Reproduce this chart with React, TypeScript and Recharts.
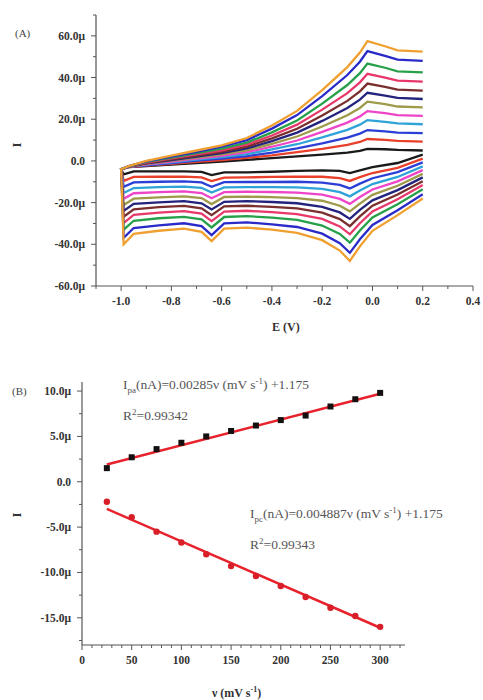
import React from "react";
import { LineChart, Line, XAxis, YAxis, ComposedChart, Scatter } from "recharts";

// (A) cyclic voltammograms, potential grids for each half of the sweep
const E_FORWARD = [-1.0, -0.97, -0.9, -0.8, -0.7, -0.6, -0.5, -0.4, -0.3, -0.2, -0.1, -0.05, -0.02, 0.05, 0.1, 0.2];
const E_REVERSE = [0.2, 0.1, 0.0, -0.05, -0.09, -0.13, -0.2, -0.3, -0.4, -0.5, -0.59, -0.64, -0.68, -0.75, -0.85, -0.95, -0.99];

// anodic (forward) branch currents, uA
const fwd25 = [-4, -3, -2.5, -1.8, -1, -0.3, 0.5, 1.3, 2.2, 3, 4, 4.8, 5.8, 5.6, 5.3, 5.0];
const fwd50 = [-4, -3, -2.3, -1.4, -0.5, 0.4, 1.5, 2.7, 4.2, 5.8, 7.7, 9.1, 10.5, 10.1, 9.6, 9.3];
const fwd75 = [-4, -2.9, -2.1, -1.0, 0.1, 1.1, 2.3, 4.0, 6.0, 8.4, 11.2, 13.1, 14.8, 14.2, 13.6, 13.3];
const fwd100 = [-4, -2.9, -1.8, -0.7, 0.6, 1.8, 3.3, 5.5, 8.0, 11.3, 14.9, 17.4, 19.6, 18.7, 18.0, 17.6];
const fwd125 = [-4, -2.8, -1.6, -0.3, 1.1, 2.4, 4.2, 6.8, 9.8, 13.9, 18.4, 21.3, 23.9, 22.9, 22.0, 21.6];
const fwd150 = [-4, -2.8, -1.4, 0.1, 1.6, 3.1, 5.1, 8.2, 11.7, 16.5, 21.9, 25.4, 28.4, 27.2, 26.1, 25.7];
const fwd175 = [-4, -2.7, -1.2, 0.4, 2.1, 3.8, 6.0, 9.5, 13.6, 19.2, 25.4, 29.4, 32.7, 31.3, 30.2, 29.7];
const fwd200 = [-4, -2.7, -1.0, 0.8, 2.6, 4.4, 6.9, 10.8, 15.4, 21.8, 28.8, 33.4, 37.1, 35.5, 34.2, 33.7];
const fwd225 = [-4, -2.6, -0.8, 1.2, 3.2, 5.1, 7.8, 12.2, 17.4, 24.6, 32.5, 37.7, 41.8, 40.0, 38.5, 38.0];
const fwd250 = [-4, -2.6, -0.5, 1.6, 3.7, 5.9, 8.8, 13.7, 19.4, 27.5, 36.4, 42.1, 46.7, 44.7, 43.0, 42.5];
const fwd275 = [-4, -2.5, -0.2, 2.1, 4.4, 6.8, 10.0, 15.5, 22.0, 31.1, 41.2, 47.6, 52.7, 50.4, 48.6, 48.0];
const fwd300 = [-4, -2.5, 0, 2.5, 5, 7.5, 11, 17, 24, 34, 45, 52, 57.5, 55, 53, 52.4];

// cathodic (reverse) branch currents, uA
const rev25 = [3, -1, -3, -4.5, -5.8, -4.8, -4.5, -4.8, -5.2, -5.5, -5.5, -6.8, -5.3, -5, -5, -5, -6.5];
const rev50 = [1.1, -3.3, -5.8, -7.8, -9.6, -8.3, -7.6, -7.5, -7.7, -7.9, -8.0, -9.7, -7.9, -7.5, -7.6, -7.7, -9.6];
const rev75 = [-0.7, -5.4, -8.3, -10.9, -13.2, -11.5, -10.4, -10.0, -10.1, -10.1, -10.2, -12.4, -10.3, -9.8, -10.0, -10.3, -12.4];
const rev100 = [-2.6, -7.7, -11.1, -14.2, -17.0, -15.0, -13.4, -12.7, -12.6, -12.6, -12.7, -15.2, -12.9, -12.3, -12.6, -13.0, -15.4];
const rev125 = [-4.4, -9.8, -13.7, -17.3, -20.6, -18.2, -16.2, -15.2, -14.9, -14.8, -15.0, -17.9, -15.4, -14.6, -15.0, -15.5, -18.2];
const rev150 = [-6.2, -11.9, -16.3, -20.5, -24.2, -21.5, -19.1, -17.8, -17.4, -17.1, -17.3, -20.7, -17.8, -17.0, -17.5, -18.1, -21.1];
const rev175 = [-7.9, -14.0, -18.9, -23.5, -27.8, -24.7, -22.0, -20.3, -19.7, -19.3, -19.6, -23.3, -20.3, -19.3, -19.9, -20.6, -24.0];
const rev200 = [-9.7, -16.1, -21.5, -26.6, -31.3, -27.9, -24.8, -22.8, -22.0, -21.5, -21.8, -26.0, -22.7, -21.6, -22.2, -23.2, -26.8];
const rev225 = [-11.6, -18.4, -24.2, -29.9, -35.2, -31.4, -27.8, -25.5, -24.6, -23.9, -24.3, -28.9, -25.3, -24.1, -24.8, -25.9, -29.8];
const rev250 = [-13.6, -20.8, -27.1, -33.4, -39.2, -35.0, -31.0, -28.3, -27.2, -26.5, -26.9, -31.9, -28.0, -26.8, -27.5, -28.7, -33.0];
const rev275 = [-16.0, -23.7, -30.7, -37.6, -44.1, -39.5, -34.9, -31.7, -30.4, -29.5, -30.0, -35.6, -31.3, -29.9, -30.9, -32.2, -36.9];
const rev300 = [-18, -26, -33.5, -41, -48, -43, -38, -34.5, -33, -32, -32.5, -38.5, -34, -32.5, -33.5, -35, -40];

const CV_RATES = [25, 50, 75, 100, 125, 150, 175, 200, 225, 250, 275, 300];
const CV_COLORS = [
  "#1a1a1a", "#e8402a", "#2b3fd6", "#2fa3d8", "#ee45c8", "#9e9a4a",
  "#23237e", "#7a2e2e", "#e8386a", "#27a04a", "#2a2ac8", "#f0a030",
];
const FORWARD = [fwd25, fwd50, fwd75, fwd100, fwd125, fwd150, fwd175, fwd200, fwd225, fwd250, fwd275, fwd300];
const REVERSE = [rev25, rev50, rev75, rev100, rev125, rev150, rev175, rev200, rev225, rev250, rev275, rev300];

// (B) peak currents vs scan rate
const SCAN_RATE = [25, 50, 75, 100, 125, 150, 175, 200, 225, 250, 275, 300];
const IPA = [1.5, 2.7, 3.6, 4.3, 5.0, 5.6, 6.2, 6.8, 7.3, 8.3, 9.1, 9.8];
const IPC = [-2.2, -3.9, -5.5, -6.7, -8.0, -9.3, -10.4, -11.5, -12.7, -13.9, -14.8, -16.0];
const FIT_V = [25, 300];
const IPA_FIT = [1.9, 9.7];
const IPC_FIT = [-3.0, -16.1];

const A_XTICKS = [-1.1, -1.0, -0.9, -0.8, -0.7, -0.6, -0.5, -0.4, -0.3, -0.2, -0.1, 0.0, 0.1, 0.2, 0.3, 0.4];
const A_YTICKS = [-60, -50, -40, -30, -20, -10, 0, 10, 20, 30, 40, 50, 60, 70];
const B_XTICKS = Array.from({ length: 33 }, (_, k) => k * 10);
const B_YTICKS = [-17.5, -15, -12.5, -10, -7.5, -5, -2.5, 0, 2.5, 5, 7.5, 10];

const loops = CV_RATES.map((_, k) => [
  ...E_REVERSE.map((e, j) => ({ e, i: REVERSE[k][j] })),
  ...E_FORWARD.map((e, j) => ({ e, i: FORWARD[k][j] })),
]);
const ipaData = SCAN_RATE.map((v, j) => ({ v, i: IPA[j] }));
const ipcData = SCAN_RATE.map((v, j) => ({ v, i: IPC[j] }));
const ipaFit = FIT_V.map((v, j) => ({ v, i: IPA_FIT[j] }));
const ipcFit = FIT_V.map((v, j) => ({ v, i: IPC_FIT[j] }));

const SERIF = "'Liberation Serif', 'DejaVu Serif', serif";
const AXIS = "#555";

const fmtMicro = (v: number) => (Math.abs(v) < 1e-9 ? "0.0" : `${v.toFixed(1)}\u03bc`);

function makeYTick(isMajor: (v: number) => boolean) {
  return (props: any) => {
    const { x, y, payload } = props;
    const v = payload.value;
    const major = isMajor(v);
    return (
      <g>
        <line x1={x} x2={x - (major ? 5 : 3)} y1={y} y2={y} stroke={AXIS} strokeWidth={1} />
        {major && (
          <text x={x - 11} y={y} dy={4} textAnchor="end" fontFamily={SERIF} fontWeight="bold" fontSize={11.5} fill="#333">
            {fmtMicro(v)}
          </text>
        )}
      </g>
    );
  };
}

function makeXTick(isMajor: (v: number) => boolean, fmt: (v: number) => string) {
  return (props: any) => {
    const { x, y, payload } = props;
    const v = payload.value;
    const major = isMajor(v);
    return (
      <g>
        <line x1={x} x2={x} y1={y} y2={y + (major ? 5 : 3)} stroke={AXIS} strokeWidth={1} />
        {major && (
          <text x={x} y={y + 19} textAnchor="middle" fontFamily={SERIF} fontWeight="bold" fontSize={11.5} fill="#333">
            {fmt(v)}
          </text>
        )}
      </g>
    );
  };
}

const aYTick = makeYTick((v) => Math.round(v) % 20 === 0 && v <= 60);
const aXTick = makeXTick(
  (v) => Math.round(v * 10) % 2 === 0 && v > -1.05,
  (v) => v.toFixed(1)
);
const bYTick = makeYTick((v) => Math.abs(v % 5) < 1e-9);
const bXTick = makeXTick((v) => v % 50 === 0, (v) => String(v));

const squareMark = (p: any) => <rect x={p.cx - 3} y={p.cy - 3} width={6} height={6} fill="#151010" />;
const circleMark = (p: any) => <circle cx={p.cx} cy={p.cy} r={3.2} fill="#d81e28" />;

function Txt(props: { x: number; y: number; children: React.ReactNode; style?: React.CSSProperties }) {
  return (
    <div
      style={{
        position: "absolute",
        left: props.x,
        top: props.y,
        transform: "translateY(-50%)",
        whiteSpace: "nowrap",
        fontFamily: SERIF,
        lineHeight: 1,
        ...props.style,
      }}
    >
      {props.children}
    </div>
  );
}

export default function App() {
  return (
    <div style={{ position: "absolute", left: 0, top: 0, width: 483, height: 700, background: "#fff" }}>
      <div style={{ position: "absolute", left: 0, top: 0 }}>
        <LineChart width={483} height={340} margin={{ top: 15, right: 10, bottom: 24, left: 0 }}>
          <XAxis
            type="number"
            dataKey="e"
            domain={[-1.1, 0.4]}
            allowDataOverflow
            ticks={A_XTICKS}
            interval={0}
            tickSize={0}
            tickMargin={0}
            height={30}
            tick={aXTick}
            stroke={AXIS}
            strokeWidth={1.2}
          />
          <YAxis
            type="number"
            dataKey="i"
            domain={[-60, 70]}
            allowDataOverflow
            ticks={A_YTICKS}
            interval={0}
            tickSize={0}
            tickMargin={0}
            width={96}
            tick={aYTick}
            stroke={AXIS}
            strokeWidth={1.2}
          />
          {loops.map((loop, k) => (
            <Line
              key={CV_RATES[k]}
              data={loop}
              dataKey="i"
              type="linear"
              stroke={CV_COLORS[k]}
              strokeWidth={2.3}
              dot={false}
              isAnimationActive={false}
            />
          ))}
        </LineChart>
      </div>

      <div style={{ position: "absolute", left: 0, top: 340 }}>
        <ComposedChart width={483} height={360} margin={{ top: 42, right: 78, bottom: 25, left: 0 }}>
          <XAxis
            type="number"
            dataKey="v"
            domain={[0, 325]}
            allowDataOverflow
            ticks={B_XTICKS}
            interval={0}
            tickSize={0}
            tickMargin={0}
            height={30}
            tick={bXTick}
            stroke={AXIS}
            strokeWidth={1.2}
          />
          <YAxis
            type="number"
            dataKey="i"
            domain={[-18, 11]}
            allowDataOverflow
            ticks={B_YTICKS}
            interval={0}
            tickSize={0}
            tickMargin={0}
            width={82}
            tick={bYTick}
            stroke={AXIS}
            strokeWidth={1.2}
          />
          <Line data={ipaFit} dataKey="i" stroke="#e8222c" strokeWidth={2.5} dot={false} isAnimationActive={false} />
          <Line data={ipcFit} dataKey="i" stroke="#e8222c" strokeWidth={2.5} dot={false} isAnimationActive={false} />
          <Scatter data={ipaData} dataKey="i" shape={squareMark} isAnimationActive={false} />
          <Scatter data={ipcData} dataKey="i" shape={circleMark} isAnimationActive={false} />
        </ComposedChart>
      </div>

      {/* panel A texts */}
      <Txt x={15} y={33} style={{ fontSize: 11, color: "#444" }}>(A)</Txt>
      <Txt x={14} y={145} style={{ fontSize: 13, fontWeight: "bold", color: "#333", transform: "translateY(-50%) rotate(-90deg)" }}>I</Txt>
      <Txt x={272} y={327} style={{ fontSize: 12, fontWeight: "bold", color: "#333" }}>E (V)</Txt>

      {/* panel B texts */}
      <Txt x={12} y={391} style={{ fontSize: 11, color: "#444" }}>(B)</Txt>
      <Txt x={14} y={515} style={{ fontSize: 13, fontWeight: "bold", color: "#333", transform: "translateY(-50%) rotate(-90deg)" }}>I</Txt>
      <Txt x={212} y={692} style={{ fontSize: 12, fontWeight: "bold", color: "#333" }}>
        {"\u03bd (mV s"}<sup style={{ fontSize: 8 }}>-1</sup>)
      </Txt>
      <Txt x={123} y={386} style={{ fontSize: 13.5, color: "#555" }}>
        I<sub style={{ fontSize: 9 }}>pa</sub>(nA)=0.00285{"\u03bd"} (mV s<sup style={{ fontSize: 9 }}>-1</sup>) +1.175
      </Txt>
      <Txt x={123} y={415} style={{ fontSize: 13.5, color: "#555" }}>
        R<sup style={{ fontSize: 9 }}>2</sup>=0.99342
      </Txt>
      <Txt x={250} y={515} style={{ fontSize: 13.5, color: "#555" }}>
        I<sub style={{ fontSize: 9 }}>pc</sub>(nA)=0.004887{"\u03bd"} (mV s<sup style={{ fontSize: 9 }}>-1</sup>) +1.175
      </Txt>
      <Txt x={250} y={544} style={{ fontSize: 13.5, color: "#555" }}>
        R<sup style={{ fontSize: 9 }}>2</sup>=0.99343
      </Txt>
    </div>
  );
}
